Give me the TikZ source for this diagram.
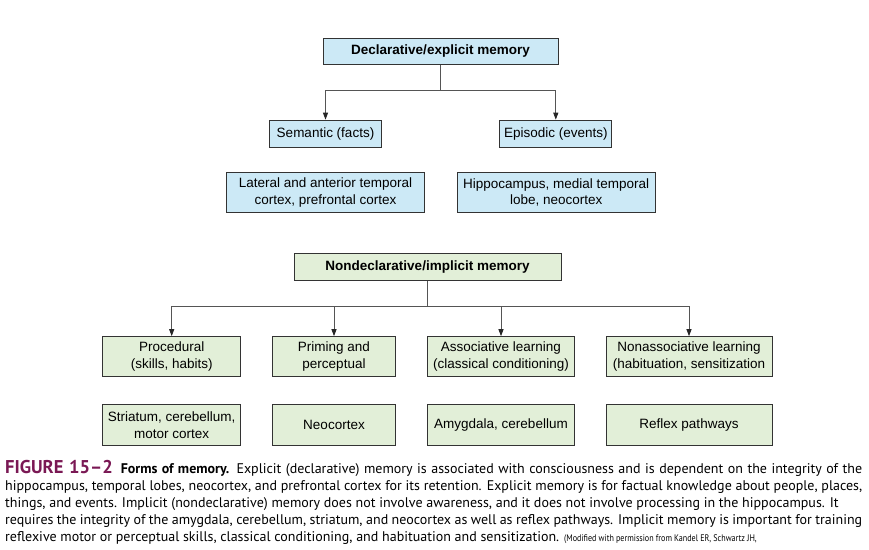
\documentclass[tikz,border=0pt]{standalone}
\usepackage{fontspec}
\setmainfont{Liberation Sans}
\newfontfamily\capfont{PT Sans}
\newfontfamily\notefont[FakeStretch=0.85]{PT Sans}
\usetikzlibrary{arrows.meta}
\definecolor{declfill}{RGB}{204,233,246}
\definecolor{nondeclfill}{RGB}{226,239,216}
\definecolor{figpurple}{RGB}{122,24,84}
\definecolor{linkgray}{RGB}{85,85,85}
\begin{document}
\begin{tikzpicture}[x=1pt, y=-1pt,
  box/.style = {draw=black!80, line width=1pt, inner sep=0pt, align=center, font=\fontsize{13.5}{16.5}\selectfont},
  decl/.style = {box, fill=declfill},
  nondecl/.style = {box, fill=nondeclfill},
  link/.style = {draw=linkgray, line width=0.9pt},
  arr/.style = {link, -{Triangle[length=7pt,width=5pt,color=black!85]}}]
\useasboundingbox (0,0) rectangle (869,549);

\node[decl, minimum width=235pt, minimum height=26pt] (1) at (440.5,51) {\bfseries Declarative/explicit memory};
\node[decl, minimum width=112pt, minimum height=27pt] (2) at (325.5,133.7) {Semantic (facts)};
\node[decl, minimum width=112pt, minimum height=27pt] (3) at (555.8,133.7) {Episodic (events)};
\node[decl, minimum width=198pt, minimum height=40pt] (4) at (325.5,192.5) {Lateral and anterior temporal\\cortex, prefrontal cortex};
\node[decl, minimum width=198pt, minimum height=40pt] (5) at (556.2,192.5) {Hippocampus, medial temporal\\lobe, neocortex};

\node[nondecl, minimum width=267pt, minimum height=27pt] (6) at (427.5,266.8) {\bfseries Nondeclarative/implicit memory};
\node[nondecl, minimum width=138pt, minimum height=40pt] (7) at (171.7,356.7) {Procedural\\(skills, habits)};
\node[nondecl, minimum width=123pt, minimum height=40pt] (8) at (334,356.7) {Priming and\\perceptual};
\node[nondecl, minimum width=147pt, minimum height=40pt] (9) at (501,356.7) {Associative learning\\(classical conditioning)};
\node[nondecl, minimum width=166pt, minimum height=40pt] (10) at (689,356.7) {Nonassociative learning\\(habituation, sensitization};
\node[nondecl, minimum width=138pt, minimum height=41pt] (11) at (171.7,425.3) {Striatum, cerebellum,\\motor cortex};
\node[nondecl, minimum width=123pt, minimum height=41pt] (12) at (334,425.3) {Neocortex};
\node[nondecl, minimum width=147pt, minimum height=41pt] (13) at (501,425.3) {Amygdala, cerebellum};
\node[nondecl, minimum width=166pt, minimum height=41pt] (14) at (689,425.3) {Reflex pathways};

\coordinate (j1) at (440.5,90.7);
\coordinate (j2) at (427.7,306.3);

\draw[link] (1) -- (j1);
\draw[arr] (j1) -| (2);
\draw[arr] (j1) -| (3);

\draw[link] (6.south -| j2) -- (j2);
\draw[arr] (j2) -| (7);
\draw[arr] (j2) -| (8);
\draw[arr] (j2) -| (9);
\draw[arr] (j2) -| (10);

\node[anchor=base west, inner sep=0pt, text width=857pt, align=justify, font=\capfont\fontsize{14}{16.9}\selectfont] (15) at (5,473.5) {{\color{figpurple}\bfseries\fontsize{18.5}{16.9}\selectfont FIGURE 15–2}\hspace{8pt}{\bfseries Forms of memory.} Explicit (declarative) memory is associated with consciousness and is dependent on the integrity of the\linebreak
hippocampus, temporal lobes, neocortex, and prefrontal cortex for its retention. Explicit memory is for factual knowledge about people, places,\linebreak
things, and events. Implicit (nondeclarative) memory does not involve awareness, and it does not involve processing in the hippocampus. It\\
requires the integrity of the amygdala, cerebellum, striatum, and neocortex as well as reflex pathways. Implicit memory is important for training\linebreak
reflexive motor or perceptual skills, classical conditioning, and habituation and sensitization. {\notefont\fontsize{9.5}{16.9}\selectfont (Modified with permission from Kandel ER, Schwartz JH,}};
\end{tikzpicture}
\end{document}
